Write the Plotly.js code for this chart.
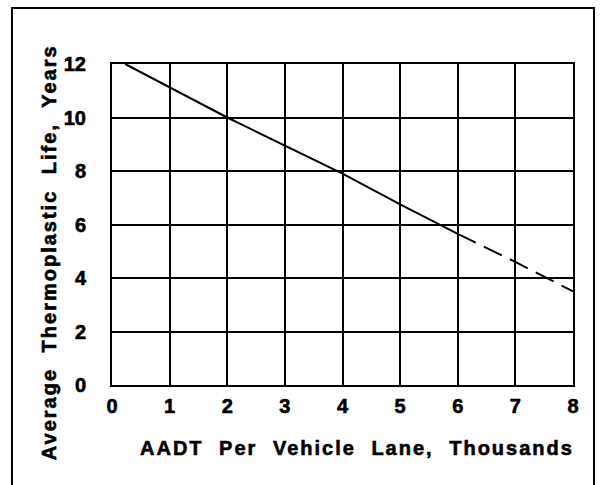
<!DOCTYPE html>
<html>
<head>
<meta charset="utf-8">
<script src="https://cdn.plot.ly/plotly-3.0.1.min.js"></script>
<style>
  body { margin: 0; background: #fff; }
  #chart { width: 603px; height: 485px; }
  .annotation-text { letter-spacing: 2px; word-spacing: 8px; }
  .annotation-text, .xtick text, .ytick text { stroke: #000; stroke-width: 0.6px; }
</style>
</head>
<body>
<div id="chart"></div>
<script>
// thermoplastic life vs traffic
var aadtSolid = [0.23, 2, 4, 5, 6];
var lifeSolid = [12, 10, 7.9, 6.75, 5.65];
var aadtDashed = [6, 7, 8];
var lifeDashed = [5.65, 4.6, 3.5];

var xTicks = [0, 1, 2, 3, 4, 5, 6, 7, 8];
var yTicks = [0, 2, 4, 6, 8, 10, 12];

var tickFont = {family: 'Liberation Sans, Arial, sans-serif', size: 20, color: '#000', weight: 700};
var titleFont = {family: 'Liberation Sans, Arial, sans-serif', size: 20, color: '#000', weight: 700};

var solid = {
  x: aadtSolid, y: lifeSolid,
  mode: 'lines', type: 'scatter',
  line: {color: '#000', width: 2},
  hoverinfo: 'skip'
};

var dashed = {
  x: aadtDashed, y: lifeDashed,
  mode: 'lines', type: 'scatter',
  line: {color: '#000', width: 2, dash: '20px,9px'},
  hoverinfo: 'skip'
};

var layout = {
  width: 603, height: 485,
  margin: {l: 112, r: 30, t: 64, b: 100},
  showlegend: false,
  paper_bgcolor: '#fff',
  plot_bgcolor: '#fff',
  xaxis: {
    range: [0, 8],
    tickvals: xTicks,
    ticks: 'outside', ticklen: 2, tickcolor: '#fff',
    tickfont: tickFont,
    showgrid: true, gridcolor: '#000', gridwidth: 2,
    showline: true, linecolor: '#000', linewidth: 2, mirror: true,
    zeroline: false,
    fixedrange: true
  },
  yaxis: {
    range: [0, 12],
    tickvals: yTicks,
    ticks: 'outside', ticklen: 20, tickcolor: '#fff',
    tickfont: tickFont,
    showgrid: true, gridcolor: '#000', gridwidth: 2,
    showline: true, linecolor: '#000', linewidth: 2, mirror: true,
    zeroline: false,
    fixedrange: true
  },
  annotations: [
    {
      text: 'AADT Per Vehicle Lane, Thousands',
      xref: 'paper', yref: 'paper', x: 0.5325, y: -0.196,
      xanchor: 'center', yanchor: 'middle',
      showarrow: false, font: titleFont
    },
    {
      text: 'Average Thermoplastic Life, Years',
      xref: 'paper', yref: 'paper', x: -0.138, y: 0.415,
      xanchor: 'center', yanchor: 'middle', textangle: -90,
      showarrow: false, font: titleFont
    }
  ],
  shapes: [
    {
      type: 'rect', xref: 'paper', yref: 'paper',
      x0: -0.217, x1: 1.0456, y0: -0.33, y1: 1.1745,
      line: {color: '#000', width: 2}
    }
  ]
};

Plotly.newPlot('chart', [solid, dashed], layout, {staticPlot: true});
</script>
</body>
</html>
